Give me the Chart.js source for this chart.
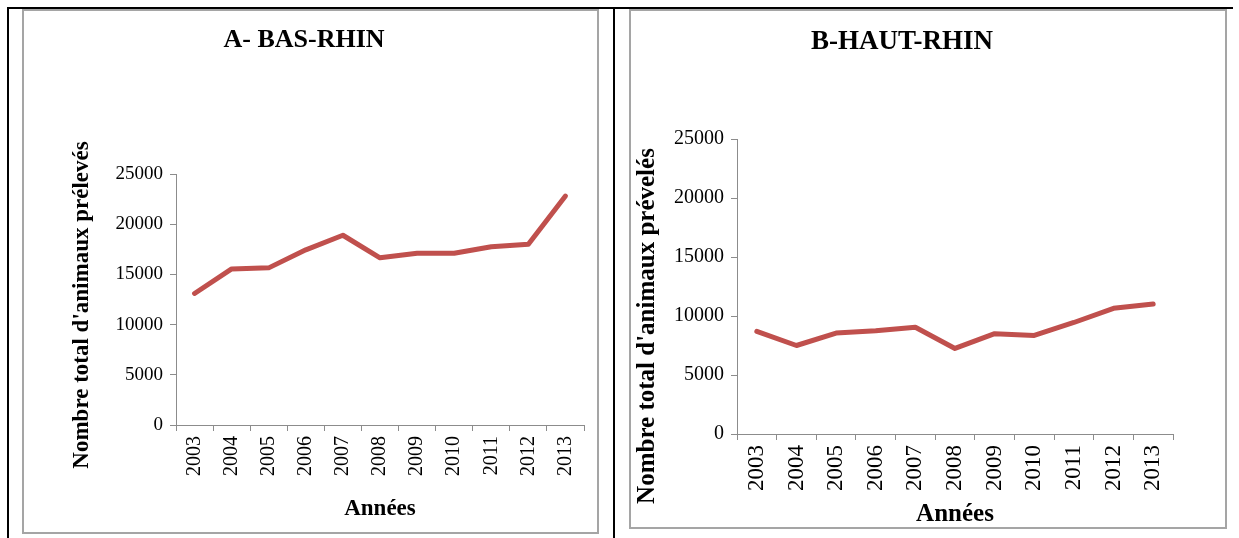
<!DOCTYPE html>
<html>
<head>
<meta charset="utf-8">
<script src="https://cdn.jsdelivr.net/npm/chart.js@4.4.1/dist/chart.umd.min.js"></script>
<style>
  html, body { margin: 0; padding: 0; background: #fff; }
  body { position: relative; width: 1239px; height: 538px; overflow: hidden; }
  .rule { position: absolute; background: #000; }
  .frame { position: absolute; border: 2px solid #a5a5a5; box-sizing: border-box; }
  canvas { position: absolute; display: block; }
</style>
</head>
<body>
<!-- table rules -->
<div class="rule" style="left:7px;top:7px;width:1226px;height:2px"></div>
<div class="rule" style="left:7px;top:7px;width:2px;height:531px"></div>
<div class="rule" style="left:613px;top:7px;width:2px;height:531px"></div>
<!-- chart frames -->
<div class="frame" style="left:22px;top:9px;width:577px;height:525px"></div>
<div class="frame" style="left:629px;top:9px;width:598px;height:520px"></div>
<canvas id="chartA" width="572" height="520" style="left:24px;top:11px"></canvas>
<canvas id="chartB" width="594" height="516" style="left:631px;top:11px"></canvas>

<script>
// Years sampled
const years = ['2003', '2004', '2005', '2006', '2007', '2008', '2009', '2010', '2011', '2012', '2013'];

// Total animals sampled per year
const basRhin  = [13100, 15550, 15650, 17450, 18900, 16650, 17100, 17100, 17750, 18000, 22800];
const hautRhin = [8700, 7500, 8550, 8750, 9050, 7250, 8500, 8350, 9450, 10650, 11020];

// Y axis tick values
const yTicks = [0, 5000, 10000, 15000, 20000, 25000];

const titles = ['A- BAS-RHIN', 'B-HAUT-RHIN'];
const yTitles = ["Nombre total d'animaux prélevés", "Nombre total d'animaux prévelés"];
const xTitle = 'Années';

const SERIF = "'Liberation Serif', 'Times New Roman', serif";
const AXIS_GREY = '#8c8c8c';
const LINE_RED = '#C0504D';

// Draws the rotated y-axis caption at a given spot on the canvas
const yCaption = {
  id: 'yCaption',
  afterDraw(chart, args, opts) {
    const ctx = chart.ctx;
    ctx.save();
    ctx.translate(opts.x, opts.y);
    ctx.rotate(-Math.PI / 2);
    ctx.font = 'bold ' + opts.size + 'px ' + SERIF;
    ctx.fillStyle = '#000';
    ctx.textAlign = 'center';
    ctx.textBaseline = 'middle';
    ctx.fillText(opts.text, 0, 0);
    ctx.restore();
  }
};

function makeChart(id, values, cfg) {
  return new Chart(document.getElementById(id), {
    type: 'line',
    data: {
      labels: years,
      datasets: [{
        data: values,
        borderColor: LINE_RED,
        borderWidth: 5,
        borderCapStyle: 'round',
        borderJoinStyle: 'round',
        pointRadius: 0,
        pointHoverRadius: 0,
        tension: 0,
        fill: false
      }]
    },
    options: {
      responsive: false,
      animation: false,
      events: [],
      layout: { padding: { left: 0, right: cfg.padRight, top: 0, bottom: 0 } },
      plugins: {
        legend: { display: false },
        tooltip: { enabled: false },
        title: {
          display: true,
          text: cfg.title,
          color: '#000',
          font: { family: SERIF, size: cfg.titleSize, weight: 'bold', lineHeight: 1.2 },
          padding: { top: cfg.titleTop, bottom: cfg.titleBottom }
        },
        yCaption: { text: cfg.yTitle, x: cfg.yTitleX, y: cfg.yTitleY, size: cfg.captionSize }
      },
      scales: {
        x: {
          type: 'category',
          offset: true,
          grid: {
            offset: true,
            drawOnChartArea: false,
            drawTicks: true,
            tickLength: 6,
            color: AXIS_GREY,
            lineWidth: 1
          },
          border: { display: true, color: AXIS_GREY, width: 1 },
          ticks: {
            color: '#000',
            font: { family: SERIF, size: cfg.xTickSize },
            minRotation: 90,
            maxRotation: 90,
            autoSkip: false,
            padding: 5
          },
          title: {
            display: true,
            text: xTitle,
            color: '#000',
            font: { family: SERIF, size: cfg.captionSize, weight: 'bold', lineHeight: 1.2 },
            padding: { top: 0, bottom: cfg.xTitleBottom }
          },
          afterFit(scale) { scale.height = cfg.xAxisHeight; }
        },
        y: {
          min: 0,
          max: 25000,
          afterBuildTicks(scale) { scale.ticks = yTicks.map(v => ({ value: v })); },
          grid: {
            drawOnChartArea: false,
            drawTicks: true,
            tickLength: 6,
            color: AXIS_GREY,
            lineWidth: 1
          },
          border: { display: true, color: AXIS_GREY, width: 1 },
          ticks: {
            color: '#000',
            font: { family: SERIF, size: cfg.yTickSize },
            padding: 7,
            callback: v => String(v)
          },
          afterFit(scale) { scale.width = cfg.yAxisWidth; }
        }
      }
    },
    plugins: [yCaption]
  });
}

makeChart('chartA', basRhin, {
  title: titles[0],
  yTitle: yTitles[0],
  titleSize: 26,
  captionSize: 23,
  xTickSize: 20,
  yTickSize: 19,
  titleTop: 13.4,
  titleBottom: 118.4,
  padRight: 12,
  yAxisWidth: 152,
  xAxisHeight: 106,
  xTitleBottom: 8,
  yTitleX: 58,
  yTitleY: 294
});

makeChart('chartB', hautRhin, {
  title: titles[1],
  yTitle: yTitles[1],
  titleSize: 27,
  captionSize: 25,
  xTickSize: 23,
  yTickSize: 20,
  titleTop: 15,
  titleBottom: 80.6,
  padRight: 52,
  yAxisWidth: 106,
  xAxisHeight: 93,
  xTitleBottom: -3,
  yTitleX: 17,
  yTitleY: 315
});
</script>
</body>
</html>
